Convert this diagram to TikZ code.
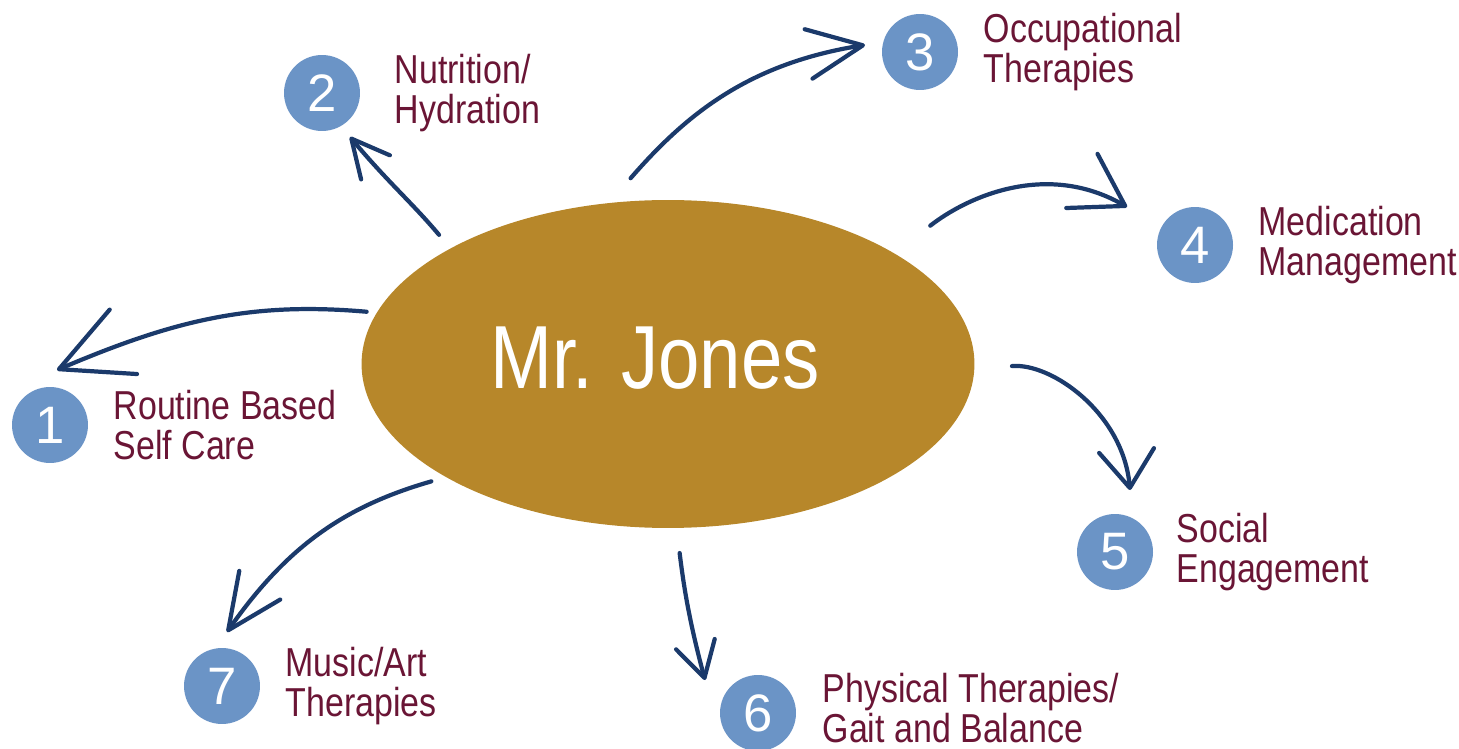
\documentclass[tikz,border=0pt]{standalone}
\usepackage{fontspec}
\setmainfont{Liberation Sans}
\newfontfamily\labelfont[FakeStretch=0.84]{Liberation Sans}
\newfontfamily\namefont[FakeStretch=0.83]{Liberation Sans}
\usepackage{xcolor}
\usepackage{tikz}
\usetikzlibrary{arrows.meta, positioning, shapes.geometric}

\definecolor{mustard}{RGB}{183,135,42}
\definecolor{dotblue}{RGB}{107,148,198}
\definecolor{wine}{RGB}{106,21,53}
\definecolor{ink}{RGB}{27,58,107}

\begin{document}
\begin{tikzpicture}[x=0.02cm, y=0.02cm,
    num/.style={circle, fill=dotblue, text=white, minimum size=1.52cm, inner sep=0pt, font=\fontsize{30}{30}\selectfont},
    lbl/.style={text=wine, align=left, inner sep=0pt, font=\labelfont\fontsize{23}{23}\selectfont},
    arr/.style 2 args={ink, line width=2.4pt, line cap=round, -{Straight Barb[round, length=#1, width=#2]}}]
    \useasboundingbox (0,0) rectangle (1459,-749);

    % centre
    \node[ellipse, fill=mustard, minimum width=12.26cm, minimum height=6.56cm, inner sep=0pt] (jones) at (668,-364) {};
    \node[text=white, inner sep=0pt, font=\namefont\fontsize{51}{51}\selectfont] (name) at (655,-358) {Mr. Jones};

    % numbered dots
    \foreach \i/\px/\py in {1/50/425, 2/322/93, 3/920/52, 4/1195/245, 5/1115/552, 6/758/713, 7/222/686}
        \node[num] (n\i) at (\px,-\py) {\i};

    \node[lbl, right=0.5cm of n1] (l1) {Routine Based\\Self Care};
    \node[lbl, right=0.68cm of n2] (l2) {Nutrition/\\Hydration};
    \node[lbl, right=0.5cm of n3] (l3) {Occupational\\Therapies};
    \node[lbl, right=0.5cm of n4] (l4) {Medication\\Management};
    \node[lbl, right=0.46cm of n5] (l5) {Social\\Engagement};
    \node[lbl, right=0.52cm of n6, yshift=0.1cm] (l6) {Physical Therapies/\\Gait and Balance};
    \node[lbl, right=0.5cm of n7] (l7) {Music/Art\\Therapies};

    % arrows
    \draw[arr={1.4cm}{1.4cm}, shorten <=0.2cm] (jones.170) to[out=175, in=23] ([shift={(7,55)}]n1.center);
    \draw[arr={0.75cm}{0.75cm}, shorten <=0.35cm] (jones.152) to[out=130, in=-50] ([shift={(28,-44)}]n2.center);
    \draw[arr={1.1cm}{1.0cm}, shorten <=0.65cm] (jones.110) to[out=49, in=189] ([shift={(-55,7)}]n3.center);
    \draw[arr={1.0cm}{1.25cm}, shorten <=0.9cm] (jones.26) to[out=38, in=150] ([shift={(-68,38)}]n4.center);
    \draw[arr={0.75cm}{1.1cm}, shorten <=0.75cm] (jones.-1) to[out=5, in=95] ([shift={(15,62)}]n5.center);
    \draw[arr={0.7cm}{0.8cm}, shorten <=0.5cm] (jones.-87) to[out=-83, in=105] ([shift={(-53,33)}]n6.center);
    \draw[arr={1.1cm}{1.0cm}, shorten <=0.3cm] (jones.207) to[out=196, in=55] ([shift={(5,54)}]n7.center);
\end{tikzpicture}
\end{document}
